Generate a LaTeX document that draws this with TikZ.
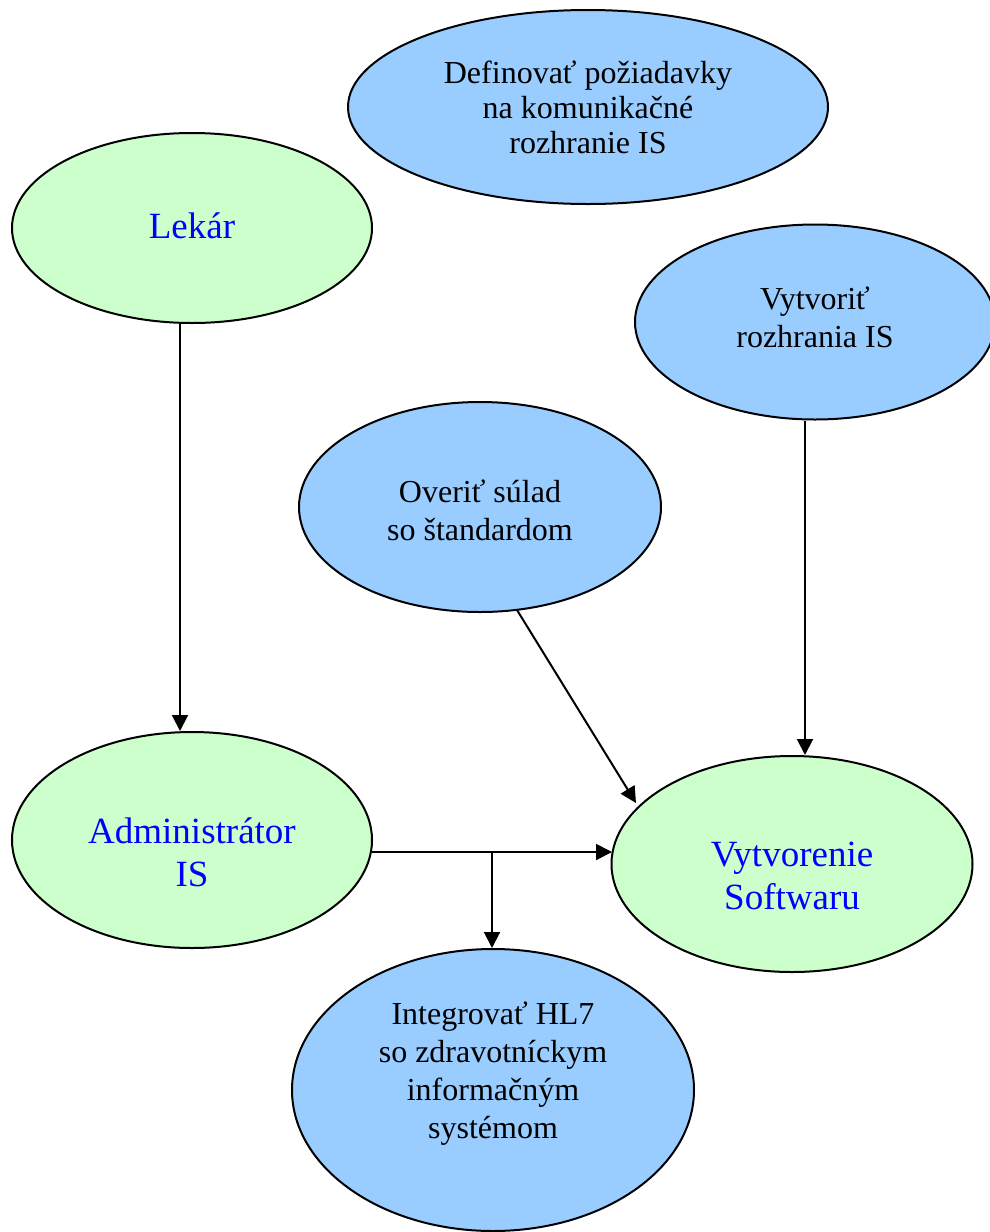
\documentclass[tikz,border=0pt]{standalone}
\usepackage{fontspec}
\setmainfont{Liberation Serif}
\usetikzlibrary{shapes.geometric,arrows.meta,calc}
\definecolor{lgreen}{HTML}{CCFFCC}
\definecolor{lblue}{HTML}{99CCFF}
\definecolor{tblue}{HTML}{0000FF}
\begin{document}
\begin{tikzpicture}[x=1pt,y=-1pt,
  ell/.style={ellipse,draw=black,line width=2pt,inner sep=0pt},
  gell/.style={ell,fill=lgreen},
  bell/.style={ell,fill=lblue},
  gtxt/.style={align=center,text=tblue,font=\fontsize{37}{43}\selectfont},
  btxt/.style={align=center,text=black,font=\fontsize{32}{38}\selectfont},
  arr/.style={line width=2pt,-{Triangle[length=16pt,width=16pt]}},
  ln/.style={line width=2pt}]
\useasboundingbox (0,0) rectangle (989,1232);
% ellipses
\node[bell,minimum width=480pt,minimum height=194pt] (def) at (588,107) {};
\node[gell,minimum width=360pt,minimum height=190pt] (lek) at (192,228) {};
\node[bell,minimum width=360pt,minimum height=195pt] (vri) at (815,322) {};
\node[bell,minimum width=362pt,minimum height=210pt] (ove) at (480,507) {};
\node[gell,minimum width=360pt,minimum height=216pt] (adm) at (192,840) {};
\node[gell,minimum width=361pt,minimum height=216pt] (vso) at (792,864) {};
\node[bell,minimum width=402pt,minimum height=282pt] (int) at (493,1090) {};
% texts
\node[btxt,font=\fontsize{32}{35}\selectfont] (tdef) at (588,107) {Definovať požiadavky\\na komunikačné\\rozhranie IS};
\node[gtxt] (tlek) at (192,226) {Lekár};
\node[btxt] (tvri) at (815,317) {Vytvoriť\\rozhrania IS};
\node[btxt] (tove) at (480,510) {Overiť súlad\\so štandardom};
\node[gtxt] (tadm) at (192,852) {Administrátor\\IS};
\node[gtxt] (tvso) at (792,876) {Vytvorenie\\Softwaru};
\node[btxt] (tint) at (493,1074) {Integrovať HL7\\so zdravotníckym\\informačným\\systémom};
% connectors
\draw[arr] ($(lek.south)+(-12,0)$) -- ($(adm.north)+(-12,0)$);
\draw[arr] ($(vri.south)+(-10,0)$) -- ($(vso.north)+(13,0)$);
\draw[arr] ($(ove.center)+(37,103)$) -- ($(vso.center)+(-156,-61)$);
\coordinate (br) at (492,852);
\draw[ln] ($(adm.center)+(180,12)$) -- (br);
\draw[arr] (br) -- ($(vso.center)+(-180,-12)$);
\draw[arr] (br) -- (br |- int.north);
\end{tikzpicture}
\end{document}
